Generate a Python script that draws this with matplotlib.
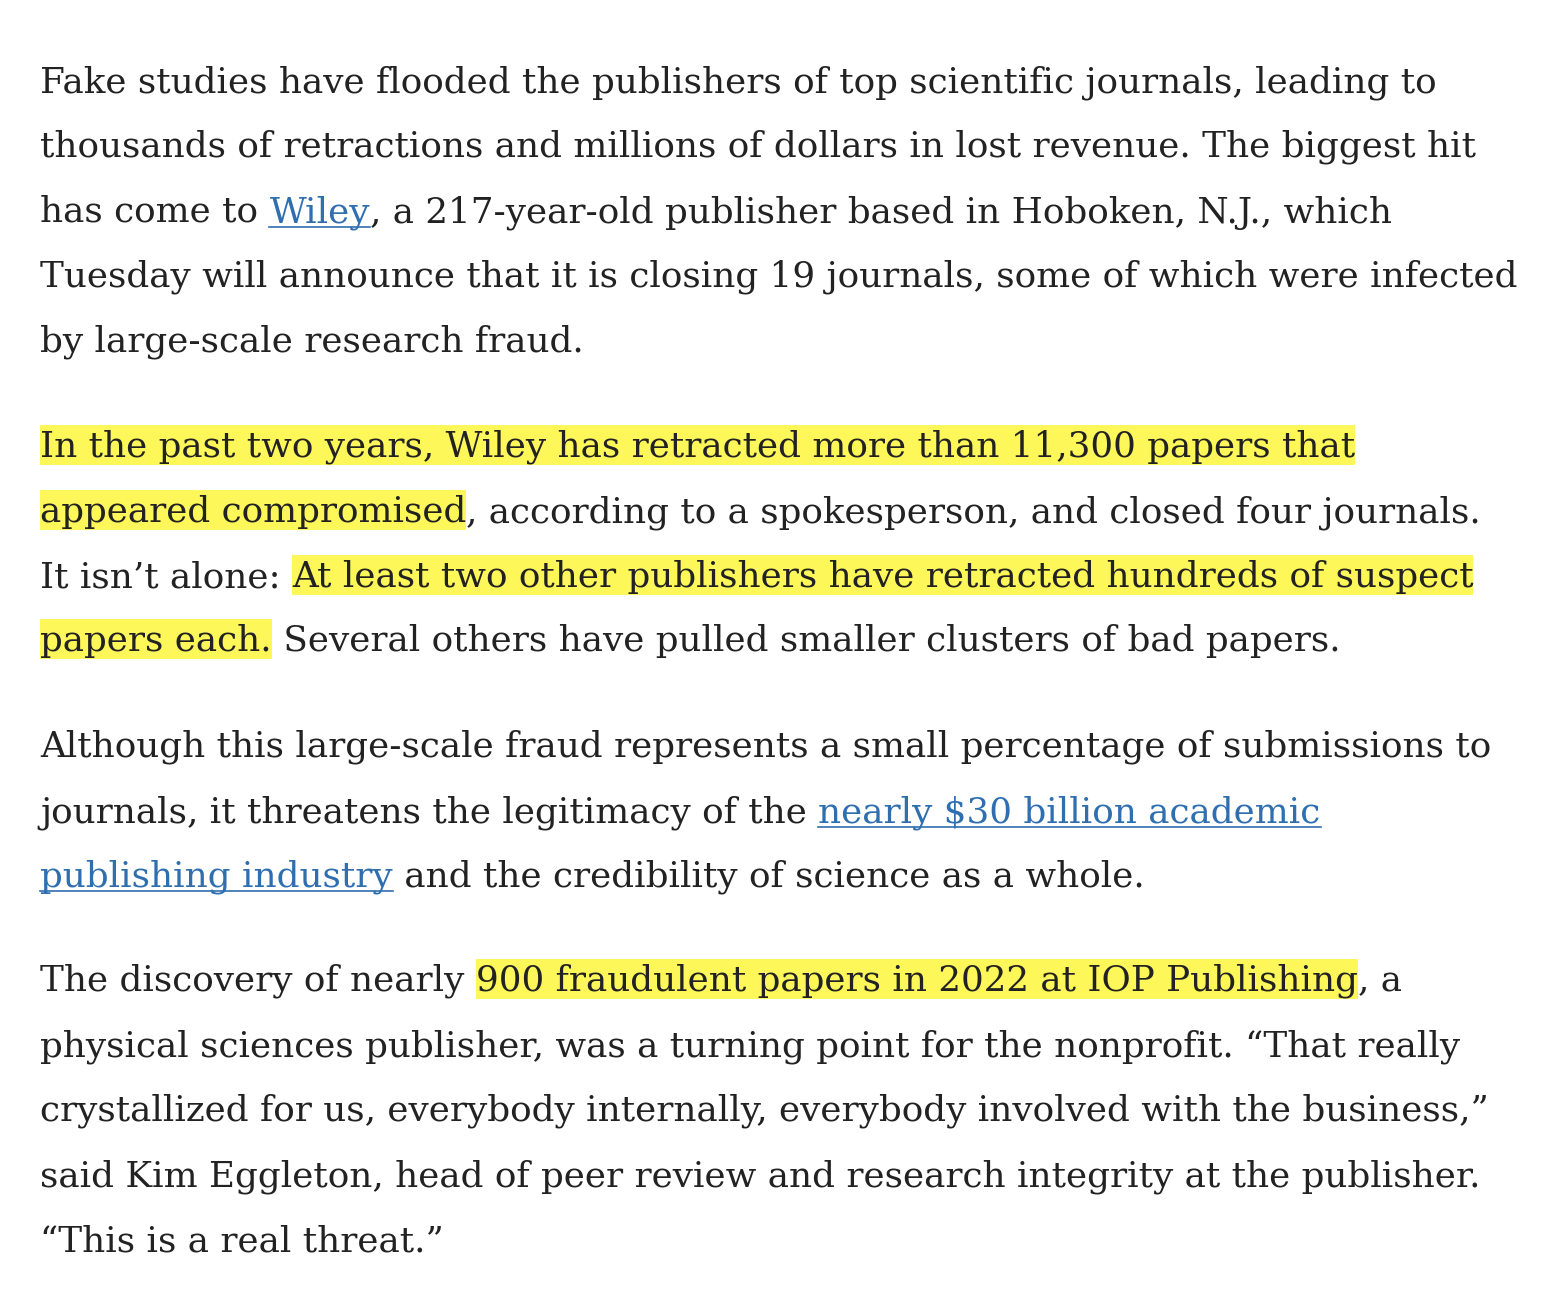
import matplotlib
matplotlib.use("Agg")
import matplotlib.pyplot as plt
from matplotlib.patches import Rectangle

W, H = 1560, 1306
# each line: list of (text, style) ; style: n normal, h highlight, l link
lines = [
    [("Fake studies have flooded the publishers of top scientific journals, leading to", "n")],
    [("thousands of retractions and millions of dollars in lost revenue. The biggest hit", "n")],
    [("has come to ", "n"), ("Wiley", "l"), (", a 217-year-old publisher based in Hoboken, N.J., which", "n")],
    [("Tuesday will announce that it is closing 19 journals, some of which were infected", "n")],
    [("by large-scale research fraud.", "n")],
    None,
    [("In the past two years, Wiley has retracted more than 11,300 papers that", "h")],
    [("appeared compromised", "h"), (", according to a spokesperson, and closed four journals.", "n")],
    [("It isn\u2019t alone: ", "n"), ("At least two other publishers have retracted hundreds of suspect", "h")],
    [("papers each.", "h"), (" Several others have pulled smaller clusters of bad papers.", "n")],
    None,
    [("Although this large-scale fraud represents a small percentage of submissions to", "n")],
    [("journals, it threatens the legitimacy of the ", "n"), ("nearly $30 billion academic", "l")],
    [("publishing industry", "l"), (" and the credibility of science as a whole.", "n")],
    None,
    [("The discovery of nearly ", "n"), ("900 fraudulent papers in 2022 at IOP Publishing", "h"), (", a", "n")],
    [("physical sciences publisher, was a turning point for the nonprofit. \u201cThat really", "n")],
    [("crystallized for us, everybody internally, everybody involved with the business,\u201d", "n")],
    [("said Kim Eggleton, head of peer review and research integrity at the publisher.", "n")],
    [("\u201cThis is a real threat.\u201d", "n")],
]
baselines = [92, 157, 222, 286, 351, None, 457, 522, 587, 651, None, 757, 822, 886, None, 991, 1056, 1121, 1186, 1251]

fig = plt.figure(figsize=(W/100, H/100), dpi=100)
fig.patch.set_facecolor("white")
r = fig.canvas.get_renderer()
FAM = "DejaVu Serif"

def width(s, size):
    a = fig.text(0, 0, s + "|", fontsize=size, family=FAM)
    b = fig.text(0, 0, "|", fontsize=size, family=FAM)
    w = a.get_window_extent(r).width - b.get_window_extent(r).width
    a.remove(); b.remove()
    return w

ref = "Tuesday will announce that it is closing 19 journals, some of which were infected"
size = 24 * 1477 / width(ref, 24)

x0 = 40
for segs, bl in zip(lines, baselines):
    if segs is None:
        continue
    prefix = ""
    for text, st in segs:
        xs = x0 + width(prefix, size) if prefix else x0
        w = width(text, size)
        color = "#2f6fb0" if st == "l" else "#222222"
        if st == "h":
            fig.patches.append(Rectangle((xs / W, 1 - (bl + 8) / H), w / W, 40 / H,
                                         transform=fig.transFigure, facecolor="#fdf75a",
                                         edgecolor="none", zorder=0))
        if st == "l":
            fig.add_artist(plt.Line2D([xs / W, (xs + w) / W], [1 - (bl + 5) / H] * 2,
                                      transform=fig.transFigure, color=color, lw=1.2))
        fig.text(xs / W, 1 - bl / H, text, fontsize=size, family=FAM, color=color,
                 va="baseline", ha="left", zorder=2)
        prefix += text

fig.savefig("out.png", dpi=100)
